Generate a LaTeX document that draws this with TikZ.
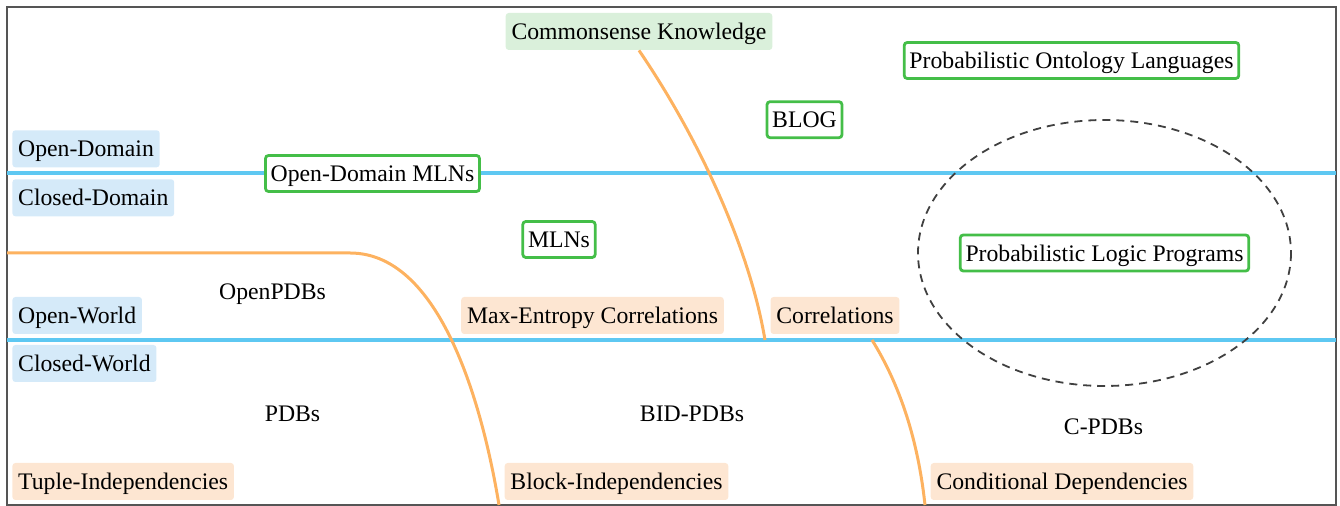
\documentclass[tikz,border=0pt]{standalone}
\usepackage{fontspec}
\setmainfont{Liberation Serif}
\definecolor{bfill}{RGB}{213,234,249}
\definecolor{ofill}{RGB}{253,230,210}
\definecolor{gfill}{RGB}{218,240,219}
\definecolor{gline}{RGB}{68,190,72}
\definecolor{oline}{RGB}{253,178,96}
\definecolor{bline}{RGB}{94,200,242}
\definecolor{frame}{RGB}{85,85,85}
\begin{document}
\begin{tikzpicture}[x=0.5pt,y=-0.5pt,
  lbl/.style={font=\fontsize{11.86pt}{14pt}\selectfont, text height=9.4pt, text depth=1.3pt,
    inner xsep=2.9pt, inner ysep=0pt, minimum height=18.5pt, rounded corners=1.5pt},
  bluebox/.style={lbl, fill=bfill},
  orangebox/.style={lbl, fill=ofill},
  greenfill/.style={lbl, fill=gfill},
  greenbox/.style={lbl, fill=white, draw=gline, line width=1.4pt, minimum height=18pt, inner xsep=2.6pt},
  plain/.style={font=\fontsize{11.86pt}{14pt}\selectfont, inner sep=0pt, anchor=base},
  divider/.style={bline, line width=1.8pt},
  boundary/.style={oline, line width=1.5pt},
]
\useasboundingbox (0,0) rectangle (1340,506);
\draw[frame, line width=0.8pt] (7,7) rectangle (1336,505);

% horizontal dividers
\coordinate (d1l) at (7,173);
\coordinate (d1r) at (1336,173);
\coordinate (d2l) at (7,340);
\coordinate (d2r) at (1336,340);
\draw[divider] (d1l) -- (d1r);
\draw[divider] (d2l) -- (d2r);

% dashed ellipse
\draw[black!75, dash pattern=on 4pt off 3pt, line width=0.9pt] (1104.5,253) ellipse [x radius=186.5, y radius=133];

% orange boundaries
\coordinate (b1a) at (7,253);
\coordinate (b1b) at (350,253);
\coordinate (b1c) at (499,505);
\draw[boundary] (b1a) -- (b1b) .. controls (445,253) and (485,420) .. (b1c);

% nodes
\node[greenfill] (ck) at (639,31.5) {Commonsense Knowledge};

\coordinate (b2b) at (765,340);
\draw[boundary] (ck.south) .. controls (700,140) and (750,250) .. (b2b);
\coordinate (b3a) at (872,340);
\coordinate (b3b) at (925,505);
\draw[boundary] (b3a) .. controls (900,385) and (918,440) .. (b3b);

\node[bluebox, anchor=west] (od) at (12,148.8) {Open-Domain};
\node[bluebox, anchor=west] (cd) at (12,197.8) {Closed-Domain};
\node[bluebox, anchor=west] (ow) at (12,315.5) {Open-World};
\node[bluebox, anchor=west] (cw) at (12,363.5) {Closed-World};
\node[orangebox, anchor=west] (ti) at (12,481.5) {Tuple-Independencies};
\node[orangebox] (me) at (592.5,315.5) {Max-Entropy Correlations};
\node[orangebox] (co) at (835,315.5) {Correlations};
\node[orangebox] (bi) at (616.5,481.5) {Block-Independencies};
\node[orangebox] (cdep) at (1062,481.5) {Conditional Dependencies};

\node[greenbox] (odmln) at (372.5,173.5) {Open-Domain MLNs};
\node[greenbox] (blog) at (804.5,119.7) {BLOG};
\node[greenbox] (mln) at (559,239.5) {MLNs};
\node[greenbox] (pol) at (1071.5,60.5) {Probabilistic Ontology Languages};
\node[greenbox] (plp) at (1104.5,253) {Probabilistic Logic Programs};

\node[plain] (opdb) at (272.5,300) {OpenPDBs};
\node[plain] (pdb) at (292.5,421.7) {PDBs};
\node[plain] (bid) at (692,421.7) {BID-PDBs};
\node[plain] (cpdb) at (1103.5,434.3) {C-PDBs};
\end{tikzpicture}
\end{document}
